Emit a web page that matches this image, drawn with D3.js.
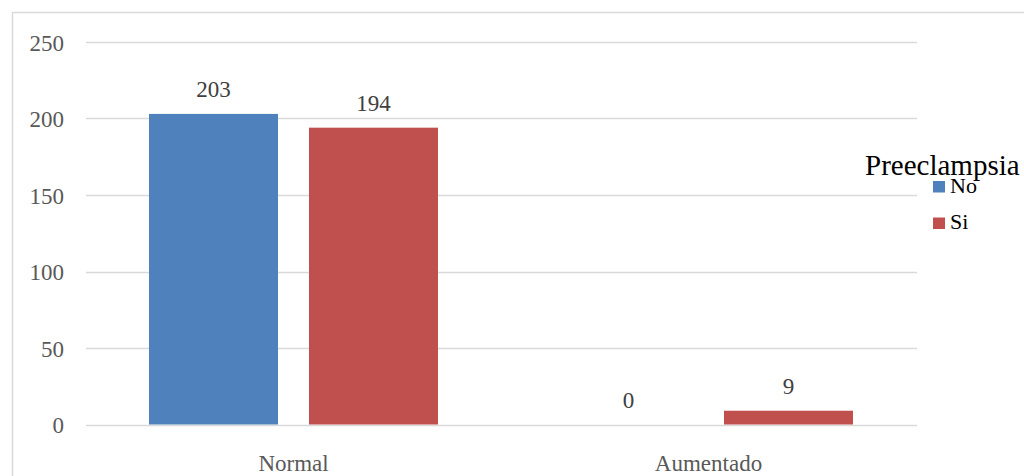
<!DOCTYPE html>
<html>
<head>
<meta charset="utf-8">
<script src="https://cdn.jsdelivr.net/npm/d3@7/dist/d3.min.js"></script>
<style>
html,body{margin:0;padding:0;background:#fff;}
svg{display:block;}
</style>
</head>
<body>
<svg id="chart" width="1024" height="476"></svg>
<script>
const categories = ["Normal", "Aumentado"];
const seriesNames = ["No", "Si"];
const valuesNo = [203, 0];
const valuesSi = [194, 9];
const yTicks = [0, 50, 100, 150, 200, 250];
const legendTitle = "Preeclampsia";
const colors = ["#4F81BD", "#C0504D"];

const seriesValues = [valuesNo, valuesSi];
const svg = d3.select("#chart");
const font = "'Liberation Serif','Times New Roman',serif";

// outer border
svg.append("rect").attr("x", 12.5).attr("y", 12.5).attr("width", 1030).attr("height", 480)
  .attr("fill", "none").attr("stroke", "#D9D9D9").attr("stroke-width", 1.5);

const y = d3.scaleLinear().domain([0, 250]).range([424.5, 42]);
const x0 = d3.scaleBand().domain(categories).range([86, 916]);
const x1 = d3.scaleBand().domain(seriesNames).range([63, 352]).paddingInner(31 / 160);

// gridlines
svg.append("g").selectAll("line").data(yTicks).join("line")
  .attr("x1", 86).attr("x2", 917)
  .attr("y1", d => Math.round(y(d)) + 0.5).attr("y2", d => Math.round(y(d)) + 0.5)
  .attr("stroke", "#D9D9D9").attr("stroke-width", 1.5);

// y axis labels
const yAxis = d3.axisLeft(y).tickValues(yTicks).tickSize(0).tickPadding(0);
const gy = svg.append("g").attr("transform", "translate(64,0)").call(yAxis);
gy.attr("font-family", null);
gy.select(".domain").remove();
gy.selectAll("text").style("font-family", font).style("font-size", "23px").attr("fill", "#595959")
  .attr("dy", "0.35em");

// x axis labels
const xAxis = d3.axisBottom(x0).tickSize(0).tickPadding(0);
const gx = svg.append("g").attr("transform", "translate(0,455)").call(xAxis);
gx.attr("font-family", null);
gx.select(".domain").remove();
gx.selectAll("text").style("font-family", font).style("font-size", "23px").attr("fill", "#595959").attr("dy", "0.7em");

// bars
const groups = svg.append("g").selectAll("g").data(categories).join("g")
  .attr("transform", c => `translate(${x0(c)},0)`);

groups.each(function(c, ci) {
  const g = d3.select(this);
  seriesNames.forEach((s, si) => {
    const v = seriesValues[si][ci];
    if (v > 0) {
      g.append("rect")
        .attr("x", x1(s)).attr("width", x1.bandwidth())
        .attr("y", y(v)).attr("height", y(0) - y(v))
        .attr("fill", colors[si]);
    }
    g.append("text")
      .attr("x", x1(s) + x1.bandwidth() / 2)
      .attr("y", y(v) - 16.5)
      .attr("text-anchor", "middle")
      .style("font-family", font).style("font-size", "23px").attr("fill", "#404040")
      .text(v);
  });
});

// legend
const lg = svg.append("g");
lg.append("text").attr("x", 865).attr("y", 175)
  .style("font-family", font).style("font-size", "29px").attr("fill", "#000").text(legendTitle);
seriesNames.forEach((s, i) => {
  const yy = 181 + i * 36.5;
  lg.append("rect").attr("x", 933).attr("y", yy).attr("width", 12).attr("height", 11.5).attr("fill", colors[i]);
  lg.append("text").attr("x", 950).attr("y", yy + 11.5)
    .style("font-family", font).style("font-size", "22px").attr("fill", "#000").text(s);
});
</script>
</body>
</html>
